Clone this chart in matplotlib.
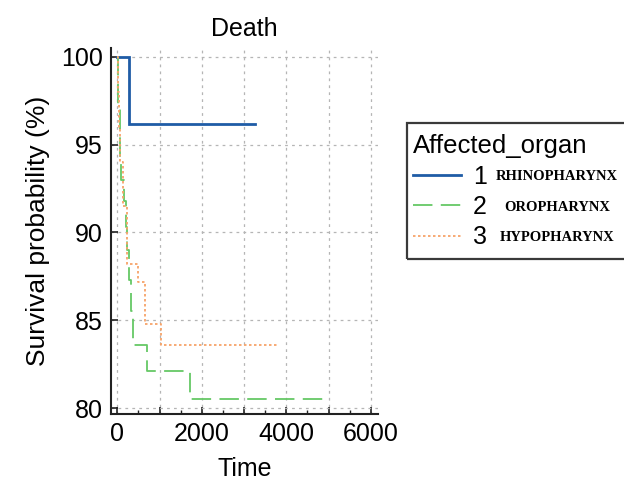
import matplotlib
matplotlib.use("Agg")
import matplotlib.pyplot as plt
from matplotlib.patches import Rectangle
from matplotlib.ticker import MultipleLocator, FuncFormatter

plt.rcParams['font.family'] = ['Liberation Sans', 'DejaVu Sans']
plt.rcParams['lines.scale_dashes'] = False

# ---- data ----
groups = ["1", "2", "3"]
organ_names = ["RHINOPHARYNX", "OROPHARYNX", "HYPOPHARYNX"]

t_rhino = [0, 270]
s_rhino = [100, 96.15]
end_rhino = 3250

t_oro = [0, 15, 60, 95, 150, 200, 240, 270, 320, 375, 700, 1720]
s_oro = [100, 97.0, 94.3, 93.0, 91.8, 90.3, 89.0, 87.3, 85.5, 83.6, 82.1, 80.5]
end_oro = 4900

t_hypo = [0, 15, 40, 70, 130, 240, 480, 650, 1030]
s_hypo = [100, 98.0, 96.0, 94.0, 91.5, 88.2, 87.2, 84.8, 83.6]
end_hypo = 3830

x_ticks = [0, 2000, 4000, 6000]
y_ticks = [80, 85, 90, 95, 100]

W, H = 624, 483
fig = plt.figure(figsize=(W / 100, H / 100), dpi=100)
ax = fig.add_axes([111 / W, 1 - 414 / H, (378 - 111) / W, (414 - 48) / H])

blue = "#1f5ca6"
green = "#66c866"
orange = "#f7a46a"

l1, = ax.step(t_rhino + [end_rhino], s_rhino + [s_rhino[-1]], where='post',
              color=blue, lw=2.0, solid_joinstyle='miter')
l2, = ax.step(t_oro + [end_oro], s_oro + [s_oro[-1]], where='post',
              color=green, lw=1.3)
l2.set_dashes((14, 6))
l3, = ax.step(t_hypo + [end_hypo], s_hypo + [s_hypo[-1]], where='post',
              color=orange, lw=1.3)
l3.set_dashes((1.8, 1.8))

ax.set_xlim(-150, 6170)
ax.set_ylim(79.66, 100.5)
ax.xaxis.set_major_locator(MultipleLocator(1000))
ax.xaxis.set_minor_locator(MultipleLocator(500))
ax.xaxis.set_major_formatter(FuncFormatter(lambda v, p: f"{int(v)}" if int(v) in x_ticks else ""))
ax.set_yticks(y_ticks)

ax.grid(True, which='major', color='#b5b5b5', lw=0.9, linestyle=(0, (2, 3)))
ax.set_axisbelow(True)

for s in ['top', 'right']:
    ax.spines[s].set_visible(False)
for s in ['left', 'bottom']:
    ax.spines[s].set_linewidth(1.5)
    ax.spines[s].set_color('#222222')

ax.tick_params(which='major', direction='in', length=5, width=1.2, labelsize=18, pad=6, color='#222222')
ax.tick_params(which='minor', direction='in', length=3, width=1.0, color='#222222')
ax.tick_params(axis='y', which='minor', left=False)

ax.set_title("Death", fontsize=18, pad=9)
ax.set_xlabel("Time", fontsize=18, labelpad=8)
ax.set_ylabel("Survival probability (%)", fontsize=19, labelpad=8)

leg = ax.legend([l1, l2, l3], groups, title="Affected_organ", fontsize=18,
                title_fontsize=18.5, loc='upper left',
                bbox_to_anchor=(413 / W, 1 - 134 / H), bbox_transform=fig.transFigure,
                frameon=False, borderpad=0, borderaxespad=0, handlelength=1.9,
                handletextpad=0.5, labelspacing=0.25, alignment='left')
leg._legend_box.sep = 5

fig.add_artist(Rectangle((407 / W, 1 - 259 / H), (640 - 407) / W, (259 - 123) / H,
                         transform=fig.transFigure, fill=False, edgecolor='#3a3a3a', lw=1.6))

fig.canvas.draw()
r = fig.canvas.get_renderer()
for txt, name in zip(leg.get_texts(), organ_names):
    bb = txt.get_window_extent(r)
    yc = (bb.y0 + bb.y1) / 2 / H
    fig.text(557 / W, yc, name, ha='center', va='center', fontsize=10.5,
             fontweight='bold', family=['Liberation Serif', 'DejaVu Serif'])

fig.savefig("out.png", dpi=100)
